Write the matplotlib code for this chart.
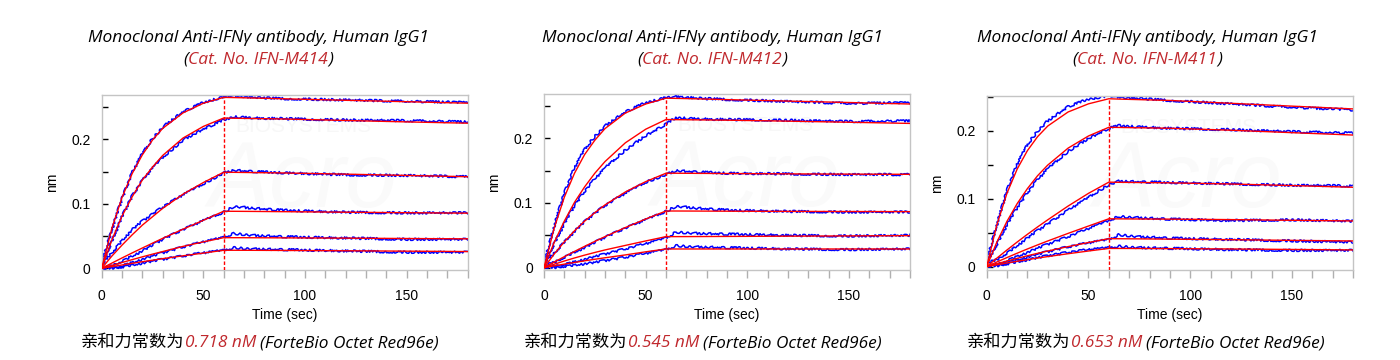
import matplotlib
matplotlib.use("Agg")
import matplotlib.pyplot as plt
from matplotlib.ticker import MultipleLocator, FuncFormatter

plt.rcParams['font.family'] = ['Liberation Sans', 'DejaVu Sans']

# sample times (sec) of the values
TIME = [0, 5, 10, 15, 20, 25, 30, 40, 50, 60, 65, 75, 90, 120, 150, 180]
ASSOC_END = 60

CAT_NOS = ['IFN-M414', 'IFN-M412', 'IFN-M411']
KD = ['0.718 nM', '0.545 nM', '0.653 nM']
TITLE = 'Monoclonal Anti-IFNγ antibody, Human IgG1'

# red = fitted curves, blue = measured curves, 6 concentrations each
M414_FIT = [
    [0, 0.062, 0.110, 0.147, 0.176, 0.199, 0.217, 0.241, 0.256, 0.265, 0.2647, 0.2640, 0.2628, 0.2605, 0.2583, 0.256],
    [0, 0.044, 0.081, 0.111, 0.137, 0.157, 0.175, 0.202, 0.220, 0.233, 0.2327, 0.2322, 0.2315, 0.2292, 0.2270, 0.225],
    [0, 0.019, 0.036, 0.052, 0.067, 0.080, 0.093, 0.115, 0.133, 0.149, 0.1488, 0.1484, 0.1478, 0.1460, 0.1440, 0.142],
    [0, 0.0081, 0.0161, 0.0239, 0.0315, 0.039, 0.0465, 0.0607, 0.0745, 0.0885, 0.0884, 0.0882, 0.0878, 0.0870, 0.0862, 0.0855],
    [0, 0.0045, 0.009, 0.0135, 0.0178, 0.022, 0.026, 0.034, 0.041, 0.0475, 0.0475, 0.0474, 0.0472, 0.0468, 0.0462, 0.0457],
    [0, 0.0026, 0.0052, 0.0078, 0.0102, 0.0126, 0.015, 0.0194, 0.0236, 0.0280, 0.0280, 0.0279, 0.0277, 0.0272, 0.0266, 0.0260],
]
M414_RAW = [
    [0.008, 0.060, 0.108, 0.148, 0.178, 0.201, 0.219, 0.243, 0.257, 0.266, 0.268, 0.265, 0.263, 0.261, 0.259, 0.257],
    [0.004, 0.042, 0.080, 0.112, 0.136, 0.155, 0.172, 0.199, 0.216, 0.230, 0.235, 0.233, 0.232, 0.230, 0.229, 0.227],
    [0.006, 0.024, 0.043, 0.060, 0.073, 0.084, 0.095, 0.114, 0.131, 0.148, 0.152, 0.150, 0.148, 0.145, 0.144, 0.142],
    [0.000, 0.004, 0.011, 0.019, 0.027, 0.036, 0.045, 0.060, 0.074, 0.087, 0.096, 0.093, 0.090, 0.087, 0.086, 0.086],
    [-0.001, 0.001, 0.004, 0.009, 0.014, 0.019, 0.024, 0.033, 0.041, 0.048, 0.054, 0.051, 0.049, 0.047, 0.045, 0.045],
    [0.002, 0.000, 0.002, 0.005, 0.008, 0.011, 0.014, 0.019, 0.024, 0.028, 0.032, 0.030, 0.029, 0.027, 0.025, 0.025],
]

M412_FIT = [
    [0, 0.061, 0.109, 0.146, 0.175, 0.197, 0.215, 0.239, 0.253, 0.262, 0.2617, 0.2610, 0.2598, 0.2575, 0.2553, 0.253],
    [0, 0.039, 0.072, 0.101, 0.125, 0.146, 0.164, 0.193, 0.214, 0.229, 0.2288, 0.2285, 0.2280, 0.2265, 0.2248, 0.223],
    [0, 0.021, 0.040, 0.057, 0.072, 0.085, 0.097, 0.117, 0.133, 0.146, 0.146, 0.1458, 0.1455, 0.1450, 0.1446, 0.1443],
    [0, 0.0087, 0.017, 0.0251, 0.033, 0.0406, 0.048, 0.062, 0.0752, 0.0876, 0.0876, 0.0875, 0.0873, 0.0870, 0.0868, 0.0866],
    [0, 0.0053, 0.0103, 0.015, 0.0194, 0.0235, 0.0274, 0.0344, 0.0413, 0.048, 0.048, 0.0481, 0.0483, 0.0487, 0.0491, 0.0495],
    [0, 0.0028, 0.0055, 0.0081, 0.0106, 0.013, 0.0153, 0.0197, 0.0245, 0.0289, 0.0289, 0.0289, 0.0289, 0.0289, 0.0289, 0.0289],
]
M412_RAW = [
    [0.006, 0.064, 0.115, 0.154, 0.183, 0.203, 0.219, 0.241, 0.255, 0.263, 0.265, 0.262, 0.260, 0.257, 0.254, 0.255],
    [0.004, 0.037, 0.068, 0.096, 0.118, 0.137, 0.154, 0.182, 0.204, 0.222, 0.232, 0.230, 0.229, 0.228, 0.226, 0.227],
    [0.008, 0.022, 0.040, 0.056, 0.071, 0.084, 0.096, 0.115, 0.132, 0.144, 0.150, 0.148, 0.146, 0.145, 0.144, 0.144],
    [0.004, 0.008, 0.016, 0.024, 0.031, 0.039, 0.047, 0.061, 0.074, 0.087, 0.095, 0.092, 0.089, 0.087, 0.086, 0.086],
    [0.000, 0.002, 0.005, 0.009, 0.013, 0.017, 0.021, 0.029, 0.037, 0.046, 0.055, 0.053, 0.052, 0.050, 0.049, 0.050],
    [0.002, 0.000, 0.002, 0.004, 0.006, 0.008, 0.011, 0.016, 0.022, 0.028, 0.034, 0.032, 0.031, 0.029, 0.028, 0.029],
]

M411_FIT = [
    [0, 0.0617, 0.1085, 0.144, 0.171, 0.1916, 0.2073, 0.228, 0.240, 0.2475, 0.2470, 0.2462, 0.2450, 0.2408, 0.2366, 0.2325],
    [0, 0.0362, 0.067, 0.093, 0.115, 0.134, 0.1497, 0.1747, 0.1926, 0.2054, 0.2052, 0.2047, 0.2040, 0.2011, 0.1975, 0.194],
    [0, 0.0125, 0.0246, 0.0363, 0.0476, 0.0585, 0.069, 0.0893, 0.108, 0.1245, 0.1243, 0.1240, 0.1235, 0.1218, 0.1195, 0.117],
    [0, 0.0068, 0.0134, 0.0198, 0.026, 0.032, 0.0378, 0.0490, 0.0598, 0.0705, 0.0704, 0.0702, 0.0700, 0.0693, 0.0683, 0.0673],
    [0, 0.0042, 0.0083, 0.0122, 0.016, 0.0196, 0.0230, 0.0295, 0.0355, 0.0412, 0.0411, 0.0409, 0.0405, 0.0397, 0.0387, 0.0378],
    [0, 0.0027, 0.0053, 0.0079, 0.0103, 0.0126, 0.0148, 0.019, 0.023, 0.0268, 0.0268, 0.0267, 0.0265, 0.0260, 0.0253, 0.0246],
]
M411_RAW = [
    [0.008, 0.062, 0.112, 0.151, 0.180, 0.200, 0.215, 0.236, 0.247, 0.252, 0.250, 0.248, 0.245, 0.240, 0.235, 0.231],
    [0.005, 0.033, 0.062, 0.087, 0.109, 0.128, 0.144, 0.170, 0.189, 0.204, 0.208, 0.206, 0.204, 0.202, 0.199, 0.197],
    [0.006, 0.010, 0.020, 0.031, 0.042, 0.053, 0.063, 0.083, 0.102, 0.121, 0.126, 0.125, 0.124, 0.122, 0.120, 0.119],
    [0.001, 0.003, 0.009, 0.015, 0.021, 0.027, 0.033, 0.044, 0.056, 0.068, 0.074, 0.072, 0.070, 0.068, 0.069, 0.067],
    [0.000, 0.002, 0.006, 0.010, 0.014, 0.018, 0.022, 0.029, 0.035, 0.040, 0.047, 0.044, 0.042, 0.040, 0.038, 0.036],
    [0.002, 0.001, 0.004, 0.007, 0.010, 0.013, 0.016, 0.021, 0.025, 0.028, 0.030, 0.028, 0.027, 0.025, 0.024, 0.024],
]

FITS = [M414_FIT, M412_FIT, M411_FIT]
RAWS = [M414_RAW, M412_RAW, M411_RAW]
YLIMS = [(-0.0026, 0.2687), (-0.0036, 0.268), (-0.005, 0.252)]

RED = '#ff0000'
BLUE = '#0000ff'
DARKRED = '#c0282d'
W, H = 1400, 360

fig = plt.figure(figsize=(W / 100, H / 100), dpi=100)

# axes boxes in pixels: left, top, right, bottom
boxes = [(101.7, 95, 467.7, 270), (544, 94.3, 910, 270), (986.7, 95.7, 1353, 270)]
title_cx = [258, 712, 1147]
cap_cx = [260, 703, 1146]

LAT = 'Open Sans'
CJK = 'Noto Sans CJK SC'


def rich_line(xc, y_px, parts, size):
    # parts: (text, color, family, style, gap after); centred as one line
    r = fig.canvas.get_renderer()
    texts = []
    for s, c, fam, st, g in parts:
        t = fig.text(0, 1 - y_px / H, s, color=c, family=fam, style=st,
                     size=size, va='baseline', ha='left')
        texts.append((t, g))
    ws = [t.get_window_extent(r).width + g for t, g in texts]
    x = xc - sum(ws) / 2
    for (t, g), w in zip(texts, ws):
        t.set_x(x / W)
        x += w


for i in range(3):
    l, t, r, b = boxes[i]
    ax = fig.add_axes([l / W, 1 - b / H, (r - l) / W, (b - t) / H])
    for raw in RAWS[i]:
        ln, = ax.plot(TIME, raw, color=BLUE, lw=1.1, zorder=2)
        ln.set_sketch_params(scale=1.1, length=4, randomness=12)
    for fit in FITS[i]:
        ax.plot(TIME, fit, color=RED, lw=1.0, zorder=3)
    top = FITS[i][0][TIME.index(ASSOC_END)]
    ax.plot([ASSOC_END, ASSOC_END], [YLIMS[i][0], top], color=RED, lw=1.0,
            ls=(0, (2.5, 1.5)), zorder=3)

    # faint watermark
    ax.text(0.55, 0.82, 'BIOSYSTEMS', transform=ax.transAxes, ha='center',
            va='center', fontsize=15, color='#f7f7f7', zorder=1)
    ax.text(0.55, 0.5, 'Acro', transform=ax.transAxes, ha='center',
            va='center', fontsize=66, style='italic', color='#fafafa', zorder=1)

    ax.set_xlim(0, 180)
    ax.set_ylim(*YLIMS[i])
    for sp in ax.spines.values():
        sp.set_color('#c4c4c4')
        sp.set_linewidth(1.0)
    ax.xaxis.set_major_locator(MultipleLocator(50))
    ax.xaxis.set_minor_locator(MultipleLocator(10))
    ax.yaxis.set_major_locator(MultipleLocator(0.1))
    ax.yaxis.set_minor_locator(MultipleLocator(0.05))
    ax.yaxis.set_major_formatter(FuncFormatter(lambda v, p: f'{v:g}'))
    ax.tick_params(axis='x', which='both', direction='out', length=6,
                   color='#b0b0b0', width=1, labelsize=10, pad=8)
    ax.tick_params(axis='y', which='both', direction='in', length=4,
                   color='black', width=1, labelsize=10, pad=8)
    ax.set_xlabel('Time (sec)', fontsize=10, labelpad=3)
    ax.set_ylabel('nm', fontsize=10, labelpad=9)

    rich_line(title_cx[i], 42, [(TITLE, 'black', LAT, 'italic', 0)], 12.5)
    rich_line(title_cx[i], 63.5, [('(', 'black', LAT, 'italic', 0),
                                  ('Cat. No. ' + CAT_NOS[i], DARKRED, LAT, 'italic', 0),
                                  (')', 'black', LAT, 'italic', 0)], 12.5)
    rich_line(cap_cx[i], 347, [('亲和力常数为', 'black', [CJK, 'DejaVu Sans'], 'normal', 0),
                               (KD[i], DARKRED, LAT, 'italic', 4),
                               ('(ForteBio Octet Red96e)', 'black', LAT, 'italic', 0)],
              12.4)

fig.savefig('out.png', dpi=100)
